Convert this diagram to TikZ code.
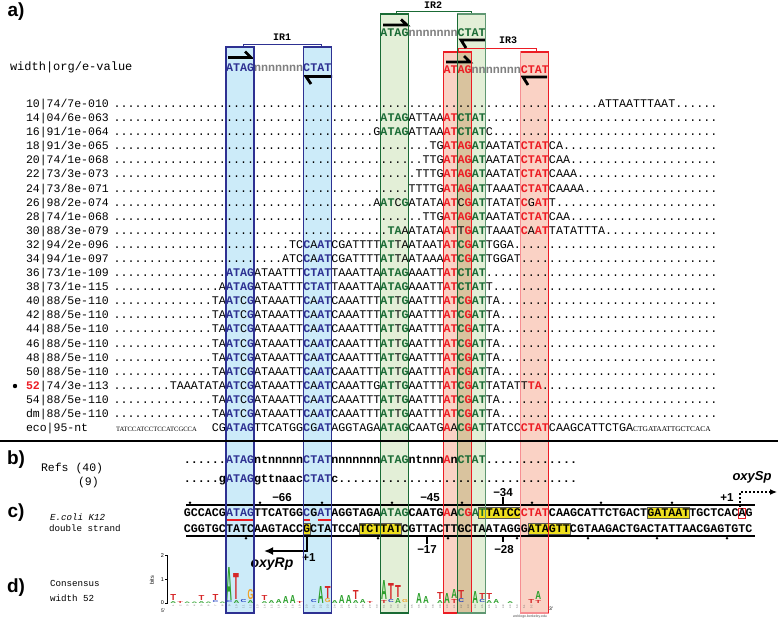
\documentclass[tikz,border=0pt]{standalone}
\usepackage{fontspec}
\setmainfont{Liberation Serif}
\setsansfont{Liberation Sans}
\setmonofont{Liberation Mono}
\usetikzlibrary{arrows.meta}
\definecolor{cBlue}{HTML}{2E3192}
\definecolor{cGreen}{HTML}{1A6B35}
\definecolor{cRed}{HTML}{EC1C24}
\definecolor{fBlue}{HTML}{CCEBF9}
\definecolor{fGreen}{HTML}{E3EFD7}
\definecolor{fRed}{HTML}{FAD2C5}
\definecolor{fTan}{HTML}{D9C39E}
\definecolor{hYel}{HTML}{EEDF1E}
\definecolor{lgA}{HTML}{2CA02C}
\definecolor{lgT}{HTML}{D62728}
\definecolor{lgG}{HTML}{F0A020}
\definecolor{lgC}{HTML}{2040C0}
\newcommand\Bl[1]{{\bfseries\color{cBlue}#1}}
\newcommand\Gr[1]{{\bfseries\color{cGreen}#1}}
\newcommand\Rd[1]{{\bfseries\color{cRed}#1}}
\newcommand\Nn[1]{{\bfseries\color{gray}#1}}
\ExplSyntaxOn
\NewExpandableDocumentCommand\Dt{m}{\prg_replicate:nn{#1}{.}}
\ExplSyntaxOff
\newcounter{lgc}
\newcommand\SRow[4]{%
  \node[lab] (l#1) at (26,#2) {#3};
  \node[seq] (r#1) at (113.68,#2) {#4};}
% logo letter: col, bottom offset, height, letter, colour
\newcommand\LL[5]{%
  \stepcounter{lgc}%
  \node[anchor=south,inner sep=0pt] (lg\arabic{lgc}) at ({226+7.02*(#1+0.5)},{603-#2*1.12})
    {\color{#5}\resizebox{5.8pt}{#3pt}{\sffamily\bfseries #4}};}
\begin{document}
\begin{tikzpicture}[x=1pt,y=-1pt,
  every node/.style={inner sep=0pt,outer sep=0pt},
  seq/.style={font=\fontsize{11.7}{12}\selectfont\ttfamily,anchor=base west},
  bseq/.style={font=\fontsize{11.7}{12}\selectfont\ttfamily\bfseries,anchor=base west},
  lab/.style={font=\fontsize{11.5}{12}\selectfont\ttfamily,anchor=base west},
  slab/.style={font=\fontsize{9.2}{10}\selectfont\ttfamily,anchor=base west},
  ptag/.style={font=\fontsize{19}{20}\selectfont\sffamily\bfseries,anchor=center},
  irlab/.style={font=\fontsize{10}{10}\selectfont\ttfamily\bfseries,anchor=center},
  poslab/.style={font=\fontsize{11.5}{12}\selectfont\sffamily\bfseries,anchor=center},
  harp/.style={line width=2.8pt,line cap=butt,line join=miter},
  hilite/.style={fill=hYel,draw=black!65,line width=0.8pt},
  tickdot/.style={fill=black},
]
\useasboundingbox (0,0) rectangle (778,619);
% ---------------- box fills
\fill[fBlue] (226,47) rectangle (254.08,613);
\fill[fBlue] (303.22,47) rectangle (331.3,613);
\fill[fGreen] (380.44,14) rectangle (408.52,613);
\fill[fGreen] (457.66,14) rectangle (485.74,613);
\fill[fRed] (443.62,52) rectangle (471.7,613);
\fill[fRed] (520.78,52) rectangle (548.86,613);
\fill[fTan] (457.66,52) rectangle (471.7,613);
% ---------------- yellow highlights panel c
\draw[hilite] (478.7,507.5) rectangle (520.8,518.5);
\draw[hilite] (647.2,507.5) rectangle (689.3,518.5);
\draw[hilite] (303.2,523.5) rectangle (310.2,534.5);
\draw[hilite] (359.4,523.5) rectangle (401.5,534.5);
\draw[hilite] (527.9,523.5) rectangle (569.9,534.5);
% ---------------- panel labels
\node[ptag] (pa) at (16,12) {a)};
\node[ptag] (pb) at (16,460) {b)};
\node[ptag] (pc) at (16,513) {c)};
\node[ptag] (pd) at (16,588) {d)};
% ---------------- header
\node[font=\fontsize{12}{12}\selectfont\ttfamily,anchor=base west] (hdr) at (10,70.5) {width|org/e-value};
\node[irlab] (ir1) at (282,37) {IR1};
\node[irlab] (ir2) at (433,5.5) {IR2};
\node[irlab] (ir3) at (508,40) {IR3};
\draw[cBlue,line width=1pt] (243,47) -- (243,44) -- (321,44) -- (321,47);
\draw[cGreen,line width=1pt] (396,14) -- (396,11.5) -- (471,11.5) -- (471,14);
\draw[cRed,line width=1pt] (458,52) -- (458,48) -- (536,48) -- (536,52);
\node[bseq] (h1) at (226,71.5) {\Bl{ATAG}\Nn{nnnnnnn}\Bl{CTAT}};
\node[bseq] (h2) at (380.44,36.5) {\Gr{ATAG}\Nn{nnnnnnn}\Gr{CTAT}};
\node[bseq] (h3) at (443.62,73.5) {\Rd{ATAG}\Nn{nnnnnnn}\Rd{CTAT}};
\draw[harp] (228,57.5) -- (251,57.5) -- (245,51.5);
\draw[harp] (332,76.5) -- (306,76.5) -- (311,84);
\draw[harp] (383,25) -- (407,25) -- (401,19.5);
\draw[harp] (485,40) -- (461,40) -- (466,48);
\draw[harp] (446,62) -- (470,62) -- (464,56);
\draw[harp] (547,77) -- (523,77) -- (528,85);
% ---------------- panel a rows
\SRow{0}{107.5}{10|74/7e-010}{\Dt{69}ATTAATTTAAT\Dt{6}}
\SRow{1}{121.59}{14|04/6e-063}{\Dt{38}\Gr{ATAG}ATTAA\Rd{AT}\Gr{CTAT}\Dt{33}}
\SRow{2}{135.68}{16|91/1e-064}{\Dt{37}G\Gr{ATAG}ATTAA\Rd{AT}\Gr{CTAT}C\Dt{32}}
\SRow{3}{149.77}{18|91/3e-065}{\Dt{45}TG\Rd{ATAG}\Gr{AT}AATAT\Rd{CTAT}CA\Dt{22}}
\SRow{4}{163.86}{20|74/1e-068}{\Dt{44}TTG\Rd{ATAG}\Gr{AT}AATAT\Rd{CTAT}CAA\Dt{21}}
\SRow{5}{177.95}{22|73/3e-073}{\Dt{43}TTTG\Rd{ATAG}\Gr{AT}AATAT\Rd{CTAT}CAAA\Dt{20}}
\SRow{6}{192.04}{24|73/8e-071}{\Dt{42}TTTTG\Rd{ATAG}\Gr{AT}TAAAT\Rd{CTAT}CAAAA\Dt{19}}
\SRow{7}{206.13}{26|98/2e-074}{\Dt{37}A\Gr{AT}C\Gr{G}ATATA\Rd{AT}C\Rd{G}\Gr{AT}TATAT\Rd{C}G\Rd{AT}T\Dt{23}}
\SRow{8}{220.22}{28|74/1e-068}{\Dt{44}TTG\Rd{ATAG}\Gr{AT}AATAT\Rd{CTAT}CAA\Dt{21}}
\SRow{9}{234.31}{30|88/3e-079}{\Dt{39}\Gr{TA}AATATA\Rd{AT}T\Rd{G}\Gr{AT}TAAAT\Rd{C}A\Rd{AT}TATATTTA\Dt{16}}
\SRow{10}{248.4}{32|94/2e-096}{\Dt{25}TC\Bl{C}A\Bl{AT}CGATTTT\Gr{AT}TAATAAT\Rd{AT}\Gr{C}\Rd{G}\Gr{AT}TGGA\Dt{29}}
\SRow{11}{262.49}{34|94/1e-097}{\Dt{24}ATC\Bl{C}A\Bl{AT}CGATTTT\Gr{AT}TAATAAA\Rd{AT}\Gr{C}\Rd{G}\Gr{AT}TGGAT\Dt{28}}
\SRow{12}{276.58}{36|73/1e-109}{\Dt{16}\Bl{ATAG}ATAATTT\Bl{CTAT}TAAATTA\Gr{ATAG}AAATT\Rd{AT}\Gr{CTAT}\Dt{33}}
\SRow{13}{290.67}{38|73/1e-115}{\Dt{15}A\Bl{ATAG}ATAATTT\Bl{CTAT}TAAATTA\Gr{ATAG}AAATT\Rd{AT}\Gr{CTAT}T\Dt{32}}
\SRow{14}{304.76}{40|88/5e-110}{\Dt{14}TA\Bl{AT}C\Bl{G}ATAAATT\Bl{C}A\Bl{AT}CAAATTT\Gr{AT}T\Gr{G}AATTT\Rd{AT}\Gr{C}\Rd{G}\Gr{AT}TA\Dt{31}}
\SRow{15}{318.85}{42|88/5e-110}{\Dt{14}TA\Bl{AT}C\Bl{G}ATAAATT\Bl{C}A\Bl{AT}CAAATTT\Gr{AT}T\Gr{G}AATTT\Rd{AT}\Gr{C}\Rd{G}\Gr{AT}TA\Dt{31}}
\SRow{16}{332.94}{44|88/5e-110}{\Dt{14}TA\Bl{AT}C\Bl{G}ATAAATT\Bl{C}A\Bl{AT}CAAATTT\Gr{AT}T\Gr{G}AATTT\Rd{AT}\Gr{C}\Rd{G}\Gr{AT}TA\Dt{31}}
\SRow{17}{347.03}{46|88/5e-110}{\Dt{14}TA\Bl{AT}C\Bl{G}ATAAATT\Bl{C}A\Bl{AT}CAAATTT\Gr{AT}T\Gr{G}AATTT\Rd{AT}\Gr{C}\Rd{G}\Gr{AT}TA\Dt{31}}
\SRow{18}{361.12}{48|88/5e-110}{\Dt{14}TA\Bl{AT}C\Bl{G}ATAAATT\Bl{C}A\Bl{AT}CAAATTT\Gr{AT}T\Gr{G}AATTT\Rd{AT}\Gr{C}\Rd{G}\Gr{AT}TA\Dt{31}}
\SRow{19}{375.21}{50|88/5e-110}{\Dt{14}TA\Bl{AT}C\Bl{G}ATAAATT\Bl{C}A\Bl{AT}CAAATTT\Gr{AT}T\Gr{G}AATTT\Rd{AT}\Gr{C}\Rd{G}\Gr{AT}TA\Dt{31}}
\SRow{20}{389.3}{\Rd{52}|74/3e-113}{\Dt{8}TAAATATA\Bl{AT}C\Bl{G}ATAAATT\Bl{C}A\Bl{AT}CAAATTG\Gr{AT}T\Gr{G}AATTT\Rd{AT}\Gr{C}\Rd{G}\Gr{AT}TATATT\Rd{TA}\Dt{25}}
\SRow{21}{403.39}{54|88/5e-110}{\Dt{14}TA\Bl{AT}C\Bl{G}ATAAATT\Bl{C}A\Bl{AT}CAAATTT\Gr{AT}T\Gr{G}AATTT\Rd{AT}\Gr{C}\Rd{G}\Gr{AT}TA\Dt{31}}
\SRow{22}{417.48}{dm|88/5e-110}{\Dt{14}TA\Bl{AT}C\Bl{G}ATAAATT\Bl{C}A\Bl{AT}CAAATTT\Gr{AT}T\Gr{G}AATTT\Rd{AT}\Gr{C}\Rd{G}\Gr{AT}TA\Dt{31}}
\node[lab] (l23) at (26,431.57) {eco|95-nt};
\node[font=\fontsize{6.6}{7}\selectfont\rmfamily,anchor=base west] (e1) at (116,431.57) {TATCCATCCTCCATCGCCA};
\node[seq] (r23) at (211.96,431.57) {CG\Bl{ATAG}TTCATGG\Bl{C}G\Bl{AT}AGGTAGA\Gr{ATAG}CAATG\Rd{A}A\Gr{C}\Rd{G}\Gr{AT}TATCC\Rd{CTAT}CAAGCATTCTGA};
\node[font=\fontsize{7.4}{8}\selectfont\rmfamily,anchor=base west] (e2) at (633.2,431.57) {CTGATAATTGCTCACA};
\fill (15,386) circle (2.2);
% ---------------- panel b
\node[lab] (rf) at (41,471.5) {Refs (40)};
\node[lab] (rf9) at (78,485.5) {(9)};
\node[bseq] (b1) at (183.88,463.3) {\Dt{6}\Bl{ATAG}ntnnnnn\Bl{CTAT}nnnnnnn\Gr{ATAG}ntnnn\Rd{A}n\Gr{CTAT}\Dt{13}};
\node[bseq] (b2) at (183.88,482.3) {\Dt{5}g\Bl{ATAG}gttnaac\Bl{CTAT}c\Dt{34}};
% ---------------- panel c
\node[slab,font=\fontsize{9.2}{10}\selectfont\ttfamily\itshape] (ec) at (50,520) {E.coli K12};
\node[slab] (ds) at (49,531.5) {double strand};
\draw[line width=1.3pt] (186,505) -- (755,505);
\draw[line width=1.3pt] (186,536) -- (755,536);
\foreach \t/\x in {1/190,2/260,3/322,4/392,5/462,6/532,7/601,8/672}
  \fill[tickdot] (\x,502.8) circle (1.4);
\foreach \t/\x in {1/246,2/378,3/448,4/517,5/588,6/657,7/727}
  \fill[tickdot] (\x,538.3) circle (1.4);
\draw[line width=1.3pt] (427,536) -- (427,544);
\draw[line width=1.3pt] (503,536) -- (503,542);
\draw[line width=1.3pt] (503,497) -- (503,505);
\node[poslab] (m66) at (282,498) {−66};
\node[poslab] (m45) at (430,498) {−45};
\node[poslab] (m34) at (503,493) {−34};
\node[poslab] (m17) at (427,550) {−17};
\node[poslab] (m28) at (504,550) {−28};
\node[poslab] (p1s) at (727,498) {+1};
\node[font=\fontsize{13}{13}\selectfont\sffamily\bfseries\itshape,anchor=center] (oxs) at (752,477) {oxySp};
\coordinate (sa) at (740,507);
\coordinate (sb) at (740,492);
\coordinate (sc) at (777,492);
\draw[line width=1.2pt,dash pattern=on 2pt off 2pt,-{Latex[length=7pt,width=6pt]}] (sa) -- (sb) -- (sc);
\draw[cRed,line width=1pt] (738.5,508) rectangle (745.5,518.5);
\draw[cRed,line width=2pt] (226,519.8) -- (254,519.8);
\draw[cRed,line width=2pt] (303.5,519.8) -- (310,519.8);
\draw[cRed,line width=2pt] (317.5,519.8) -- (331,519.8);
\node[bseq] (ts) at (183.88,516.3) {GCCACG\Bl{ATAG}TTCATGG\Bl{C}G\Bl{AT}AGGTAGA\Gr{ATAG}CAATG\Rd{A}A\Gr{C}\Rd{G}\Gr{AT}TATCC\Rd{CTAT}CAAGCATTCTGACTGATAATTGCTCACAG};
\node[bseq] (bs) at (183.88,532.3) {CGGTGCTATCAAGTACCGCTATCCATCTTATCGTTACTTGCTAATAGGGATAGTTCGTAAGACTGACTATTAACGAGTGTC};
\coordinate (ra) at (307,536);
\coordinate (rb) at (307,551);
\coordinate (rc) at (264,551);
\draw[line width=2.2pt,-{Latex[length=9pt,width=8pt]}] (ra) -- (rb) -- (rc);
\node[poslab] (p1r) at (309,558) {+1};
\node[font=\fontsize{14}{14}\selectfont\sffamily\bfseries\itshape,anchor=center] (oxr) at (272,564) {oxyRp};
% ---------------- panel d
\node[slab] (cs) at (50,586) {Consensus};
\node[slab] (wd) at (50,601) {width 52};
\draw[line width=0.6pt] (167,555) -- (167,604);
\draw[line width=0.6pt] (165,555.5) -- (167,555.5) (165,579.5) -- (167,579.5) (165,603.5) -- (167,603.5);
\node[font=\fontsize{5.5}{6}\selectfont\sffamily,anchor=east] (y2) at (164,556) {2};
\node[font=\fontsize{5.5}{6}\selectfont\sffamily,anchor=east] (y1) at (164,580) {1};
\node[font=\fontsize{5.5}{6}\selectfont\sffamily,anchor=east] (y0) at (164,603) {0};
\node[font=\fontsize{5.5}{6}\selectfont\sffamily,rotate=90,anchor=center] (bits) at (152,580) {bits};
\node[font=\fontsize{5}{5}\selectfont\sffamily,anchor=center] (f5) at (163,611) {5′};
\node[font=\fontsize{5}{5}\selectfont\sffamily,anchor=center] (f3) at (551,609) {3′};
\node[font=\fontsize{3.5}{4}\selectfont\sffamily,anchor=center,text=black!70] (wl) at (530,617) {weblogo.berkeley.edu};
\foreach \j in {1,...,52}
  \node[rotate=90,font=\fontsize{2.6}{3}\selectfont\sffamily,text=black!60,anchor=east] (pn\j) at ({226+7.02*(\j-9+0.5)},605.5) {\j};
\LL{-8}{0}{2}{A}{lgA}\LL{-8}{2}{6}{T}{lgT}
\LL{-7}{0}{2}{T}{lgT}
\LL{-6}{0}{1.5}{A}{lgA}
\LL{-5}{0}{1.5}{A}{lgA}
\LL{-4}{0}{2}{A}{lgA}\LL{-4}{2}{5}{T}{lgT}
\LL{-3}{0}{1.5}{A}{lgA}
\LL{-2}{0}{2}{C}{lgC}\LL{-2}{2}{6}{T}{lgT}
\LL{-1}{0}{1.5}{A}{lgA}
\LL{0}{0}{2}{C}{lgC}\LL{0}{2}{33}{A}{lgA}
\LL{1}{0}{3}{A}{lgA}\LL{1}{3}{26}{T}{lgT}
\LL{2}{0}{3}{C}{lgC}
\LL{3}{0}{3}{A}{lgA}\LL{3}{3}{10}{G}{lgG}
\LL{5}{0}{2}{A}{lgA}\LL{5}{2}{5}{T}{lgT}
\LL{6}{0}{3}{A}{lgA}
\LL{7}{0}{4}{A}{lgA}
\LL{8}{0}{7}{A}{lgA}
\LL{9}{0}{8}{A}{lgA}
\LL{10}{0}{2}{T}{lgT}
\LL{12}{0}{3}{C}{lgC}
\LL{13}{0}{17}{A}{lgA}
\LL{14}{0}{4}{G}{lgG}\LL{14}{4}{12}{T}{lgT}
\LL{15}{0}{3}{A}{lgA}
\LL{16}{0}{8}{A}{lgA}
\LL{17}{0}{8}{A}{lgA}
\LL{18}{0}{3}{A}{lgA}\LL{18}{3}{9}{T}{lgT}
\LL{19}{0}{4}{A}{lgA}
\LL{20}{0}{2}{T}{lgT}
\LL{22}{0}{3}{T}{lgT}\LL{22}{3}{19}{A}{lgA}
\LL{23}{0}{3}{C}{lgC}\LL{23}{3}{16}{T}{lgT}
\LL{24}{0}{5}{A}{lgA}\LL{24}{5}{12}{T}{lgT}
\LL{25}{0}{3}{G}{lgG}
\LL{27}{0}{10}{A}{lgA}
\LL{28}{0}{7}{A}{lgA}
\LL{30}{0}{3}{A}{lgA}\LL{30}{3}{7}{T}{lgT}
\LL{31}{0}{10}{A}{lgA}
\LL{32}{0}{4}{T}{lgT}\LL{32}{4}{9}{A}{lgA}
\LL{33}{0}{4}{C}{lgC}\LL{33}{4}{8}{T}{lgT}
\LL{35}{0}{12}{A}{lgA}
\LL{36}{0}{3}{C}{lgC}\LL{36}{3}{6}{T}{lgT}
\LL{37}{0}{3}{A}{lgA}\LL{37}{3}{6}{T}{lgT}
\LL{38}{0}{4}{A}{lgA}
\LL{40}{0}{2}{A}{lgA}
\LL{43}{0}{4}{T}{lgT}
\LL{44}{0}{3}{T}{lgT}\LL{44}{3}{8}{A}{lgA}
% ---------------- box borders
\draw[cBlue,line width=1.2pt] (226,47) rectangle (254.08,613);
\draw[cBlue,line width=1.2pt] (303.22,47) rectangle (331.3,613);
\draw[cGreen,line width=1.2pt] (380.44,14) rectangle (408.52,613);
\draw[cRed,line width=1.2pt] (443.62,52) rectangle (471.7,613);
\draw[cGreen!70!white,line width=1.2pt] (457.66,14) rectangle (485.74,613);
\draw[cGreen,line width=1.2pt] (457.66,14) -- (457.66,613);
\draw[cRed!50!white,line width=1.2pt] (520.78,52) rectangle (548.86,613);
\draw[cRed,line width=1.2pt] (548.86,52) -- (548.86,613) (520.78,52) -- (548.86,52);
% ---------------- separator
\draw[line width=2pt] (0,441) -- (778,441);
\end{tikzpicture}
\end{document}
